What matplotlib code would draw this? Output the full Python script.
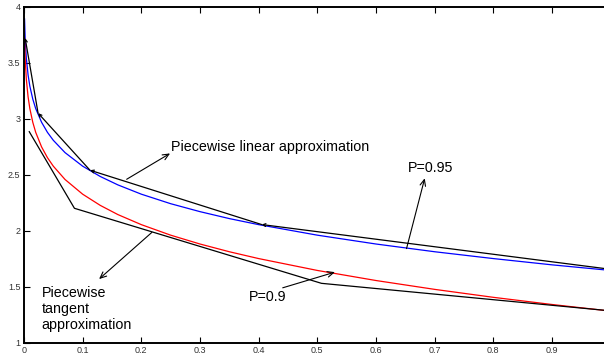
import matplotlib
matplotlib.use("Agg")
import matplotlib.pyplot as plt

plt.rcParams["font.family"] = ["Liberation Sans", "DejaVu Sans"]

# P=0.95 curve (blue)
blue_x = [0.001, 0.002, 0.004, 0.007, 0.01, 0.015, 0.02, 0.03, 0.04, 0.05, 0.07,
          0.1, 0.13, 0.16, 0.2, 0.25, 0.3, 0.35, 0.4, 0.5, 0.6, 0.7, 0.8, 0.9, 1.0]
blue_y = [3.89, 3.72, 3.54, 3.39, 3.29, 3.175, 3.09, 2.968, 2.878, 2.807, 2.697,
          2.576, 2.484, 2.409, 2.326, 2.241, 2.17, 2.108, 2.054, 1.96, 1.881, 1.812, 1.751, 1.695, 1.645]

# P=0.9 curve (red)
red_x = [0.001, 0.002, 0.004, 0.007, 0.01, 0.015, 0.02, 0.03, 0.04, 0.05, 0.07,
         0.1, 0.13, 0.16, 0.2, 0.25, 0.3, 0.35, 0.4, 0.5, 0.6, 0.7, 0.8, 0.9, 1.0]
red_y = [3.72, 3.54, 3.353, 3.195, 3.09, 2.968, 2.878, 2.748, 2.652, 2.576, 2.457,
         2.326, 2.226, 2.144, 2.054, 1.96, 1.881, 1.812, 1.751, 1.645, 1.555, 1.476, 1.405, 1.341, 1.282]

# piecewise linear approximation (chords above the blue curve)
lin_x = [0.002, 0.024, 0.1125, 0.405, 1.0]
lin_y = [3.72, 3.05, 2.54, 2.055, 1.655]

# piecewise tangent approximation (below the red curve)
tan_x = [0.009, 0.086, 0.507, 1.0]
tan_y = [2.884, 2.20, 1.53, 1.284]

xticks = [0, 0.1, 0.2, 0.3, 0.4, 0.5, 0.6, 0.7, 0.8, 0.9]
yticks = [1, 1.5, 2, 2.5, 3, 3.5, 4]

fig = plt.figure(figsize=(6.04, 3.56), dpi=100)
ax = fig.add_axes([0.0397, 0.0374, 0.9714, 0.9438])

ax.plot(blue_x, blue_y, color="blue", lw=0.9)
ax.plot(red_x, red_y, color="red", lw=0.9)
ax.plot(tan_x, tan_y, color="black", lw=0.9)

# linear approximation drawn as arrows between vertices, tiny heads
for i in range(len(lin_x) - 1, 0, -1):
    ax.annotate("", xy=(lin_x[i - 1], lin_y[i - 1]), xytext=(lin_x[i], lin_y[i]),
                arrowprops=dict(arrowstyle="->,head_length=0.2,head_width=0.1",
                                color="black", lw=0.9, shrinkA=0, shrinkB=0))

arrow = dict(arrowstyle="->,head_length=0.45,head_width=0.2", color="black",
             lw=0.8, shrinkA=0, shrinkB=0)
ax.annotate("", xy=(0.249, 2.69), xytext=(0.175, 2.459), arrowprops=arrow)
ax.text(0.251, 2.747, "Piecewise linear approximation", fontsize=10.3, va="center")

ax.annotate("", xy=(0.683, 2.468), xytext=(0.652, 1.84), arrowprops=arrow)
ax.text(0.654, 2.557, "P=0.95", fontsize=10.3, va="center")

ax.annotate("", xy=(0.53, 1.63), xytext=(0.441, 1.49), arrowprops=arrow)
ax.text(0.384, 1.41, "P=0.9", fontsize=10.3, va="center")

ax.annotate("", xy=(0.128, 1.568), xytext=(0.218, 1.985), arrowprops=arrow)
ax.text(0.03, 1.30, "Piecewise\ntangent\napproximation", fontsize=10.3,
        va="center", linespacing=1.15)

ax.set_xlim(0, 1)
ax.set_ylim(1, 4)
ax.set_xticks(xticks)
ax.set_xticklabels([("%g" % t) for t in xticks])
ax.set_yticks(yticks)
ax.set_yticklabels([("%g" % t) for t in yticks])
ax.tick_params(direction="in", length=4, width=0.8, labelsize=6.5,
               labelcolor="#333333", top=True, right=True, pad=2.5)
for s in ax.spines.values():
    s.set_linewidth(1.4)

fig.savefig("out.png", dpi=100)
